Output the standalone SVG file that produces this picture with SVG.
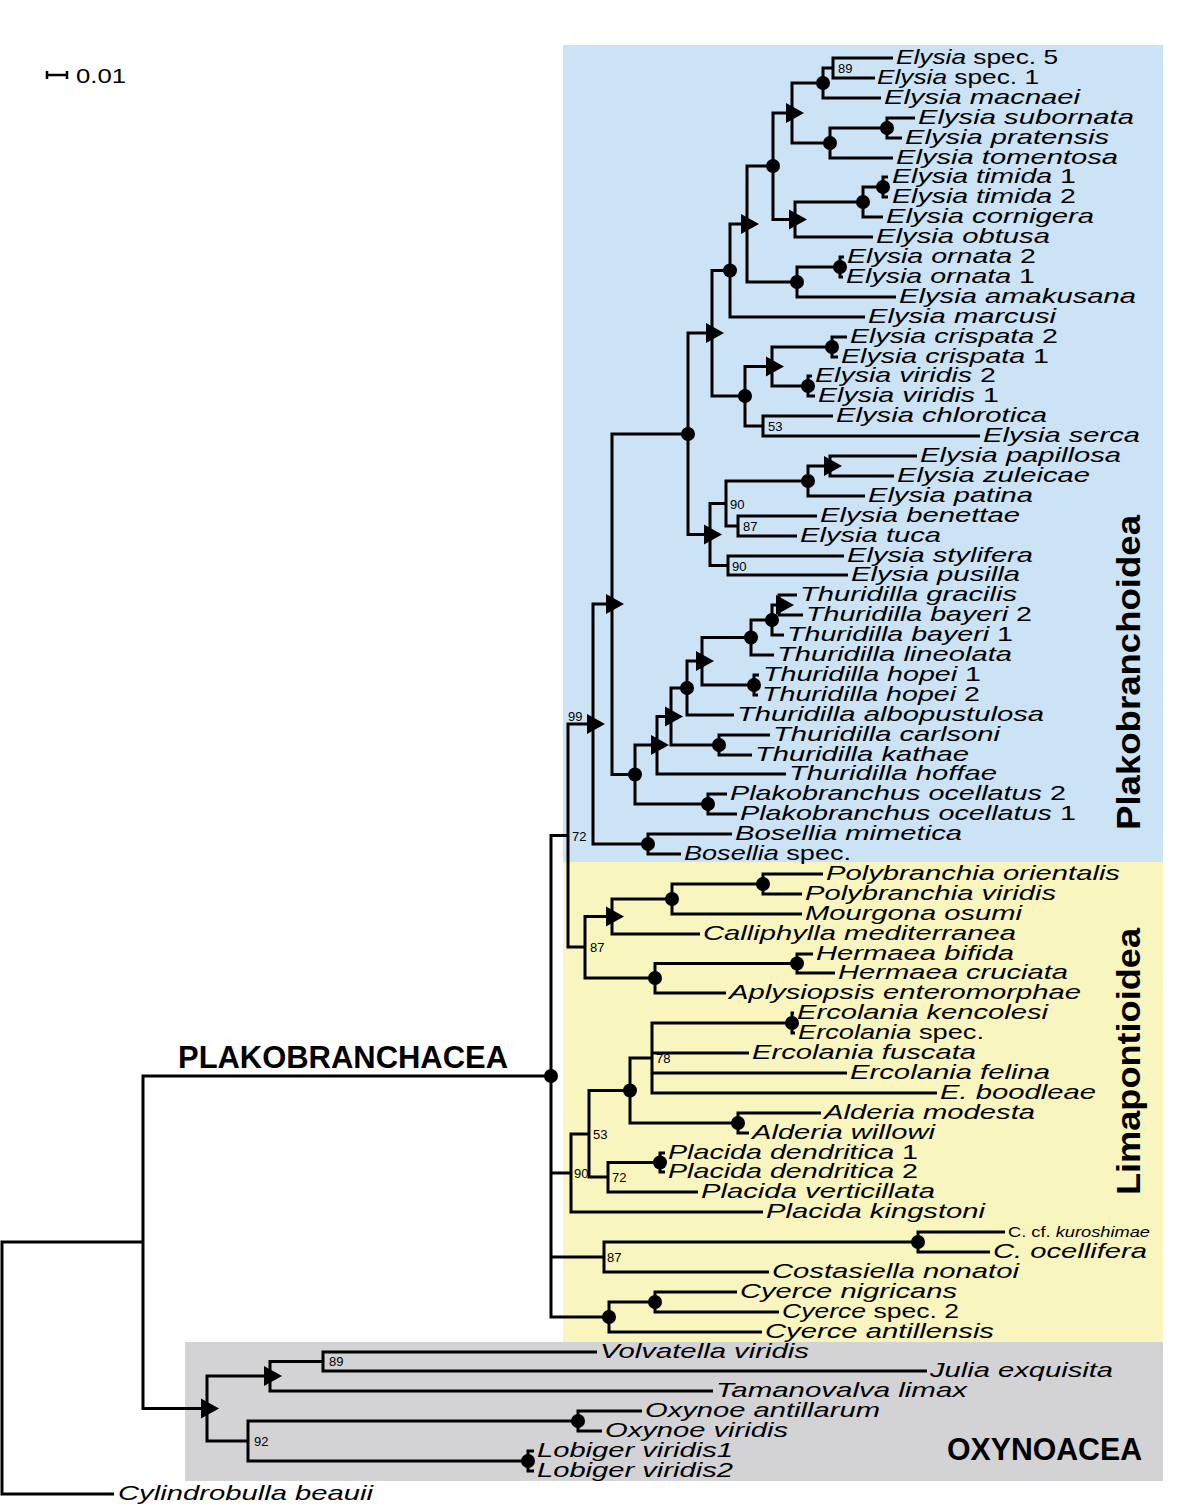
<svg xmlns="http://www.w3.org/2000/svg" width="1200" height="1508" viewBox="0 0 1200 1508">
<style>
.bg{stroke:none}
.br{fill:none;stroke:#000;stroke-width:3;stroke-linejoin:miter}
.lab{font-family:"Liberation Sans",Arial,sans-serif;font-size:21px;font-style:italic;fill:#000}
.r{font-style:normal}
.sm{font-size:14px}
.bs{font-family:"Liberation Sans",Arial,sans-serif;font-size:13px;fill:#000}
.grp{font-family:"Liberation Sans",Arial,sans-serif;font-weight:bold;fill:#000}
.dot{fill:#000}
</style>
<rect width="1200" height="1508" fill="#fff"/>
<g id="regions">
<rect class="bg" x="563" y="45" width="600" height="817" fill="#cce3f5"/>
<rect class="bg" x="563" y="862" width="600" height="480" fill="#f8f5bf"/>
<rect class="bg" x="185" y="1342" width="978" height="139" fill="#d3d3d5"/>
</g>
<g id="scale">
<path d="M47,75 H67 M47,71 V79 M67,71 V79" fill="none" stroke="#000" stroke-width="2.5"/>
<text x="76" y="83" font-family="Liberation Sans, Arial, sans-serif" font-size="21" textLength="50" lengthAdjust="spacingAndGlyphs">0.01</text>
</g>
<g id="connectors" class="br">
<path d="M893,58 H833 V78 H875"/>
<path d="M833,68 H823 V98 H881"/>
<path d="M915,118 H887 V138 H902"/>
<path d="M887,128 H830 V158 H893"/>
<path d="M823,83 H792 V143 H830"/>
<path d="M888,177 H883 V197 H888"/>
<path d="M883,187 H863 V217 H883"/>
<path d="M863,202 H795 V237 H873"/>
<path d="M792,113 H773 V219.5 H795"/>
<path d="M844,257 H840 V277 H843"/>
<path d="M840,267 H797 V297 H896"/>
<path d="M773,166 H747 V282 H797"/>
<path d="M747,224 H730 V317 H865"/>
<path d="M847,337 H832 V357 H838"/>
<path d="M812,376 H808 V396 H815"/>
<path d="M832,347 H772 V386 H808"/>
<path d="M833,416 H763 V436 H980"/>
<path d="M772,366.5 H745 V426 H763"/>
<path d="M730,270.5 H712 V396 H745"/>
<path d="M917,456 H830 V476 H894"/>
<path d="M830,466 H808 V496 H865"/>
<path d="M817,516 H738 V536 H797"/>
<path d="M808,481 H726 V526 H738"/>
<path d="M844,556 H728 V575 H848"/>
<path d="M726,503.5 H710 V565.5 H728"/>
<path d="M712,333 H688 V534.5 H710"/>
<path d="M797,595 H779 V615 H803"/>
<path d="M779,605 H772 V635 H784"/>
<path d="M772,620 H751 V655 H774"/>
<path d="M759,675 H754 V695 H758"/>
<path d="M751,637.5 H702 V685 H754"/>
<path d="M702,661 H687 V715 H734"/>
<path d="M770,735 H719 V755 H752"/>
<path d="M687,688 H671 V745 H719"/>
<path d="M671,716.5 H657 V774 H786"/>
<path d="M727,794 H708 V814 H737"/>
<path d="M657,745 H635 V804 H708"/>
<path d="M688,434 H612 V774.5 H635"/>
<path d="M732,834 H648 V854 H681"/>
<path d="M612,604 H593 V844 H648"/>
<path d="M823,874 H763 V894 H802"/>
<path d="M763,884 H672 V914 H802"/>
<path d="M672,899 H612 V934 H700"/>
<path d="M813,954 H797 V973 H835"/>
<path d="M797,963.5 H655 V993 H726"/>
<path d="M612,916.5 H585 V978 H655"/>
<path d="M593,724 H568 V947 H585"/>
<path d="M794,1013 H792 V1033 H795"/>
<path d="M792,1023 H652 V1093 H937 M652,1053 H749 M652,1073 H847"/>
<path d="M821,1113 H738 V1133 H749"/>
<path d="M652,1058 H630 V1123 H738"/>
<path d="M665,1153 H660 V1172 H665"/>
<path d="M660,1162.5 H608 V1192 H698"/>
<path d="M630,1090.5 H589 V1177 H608"/>
<path d="M589,1134 H571 V1212 H763"/>
<path d="M1005,1232 H918 V1252 H990"/>
<path d="M918,1242 H604 V1272 H769"/>
<path d="M737,1292 H655 V1312 H779"/>
<path d="M655,1302 H609 V1332 H762"/>
<path d="M568,835.5 H551 V1317 H609 M551,1173 H571 M551,1257 H604"/>
<path d="M597,1352 H323 V1371 H927"/>
<path d="M323,1361.5 H270 V1391 H713"/>
<path d="M642,1411 H578 V1431 H602"/>
<path d="M534,1451 H528 V1471 H534"/>
<path d="M578,1421 H248 V1461 H528"/>
<path d="M270,1376 H207 V1441 H248"/>
<path d="M551,1076 H143 V1408.5 H207"/>
<path d="M143,1242 H2 V1494 H114"/>
</g>
<g id="internal-nodes" class="dot">
<g id="n-89a"><text class="bs" x="838" y="73">89</text></g>
<g id="n-macnaei"><circle cx="823" cy="83" r="7"/></g>
<g id="n-subornata"><circle cx="887" cy="128" r="7"/></g>
<g id="n-tomentosa"><circle cx="830" cy="143" r="7"/></g>
<g id="n-H"><polygon points="786,103 786,123 804,113"/></g>
<g id="n-timida"><circle cx="883" cy="187" r="7"/></g>
<g id="n-cornigera"><circle cx="863" cy="202" r="7"/></g>
<g id="n-J"><polygon points="789,209.5 789,229.5 807,219.5"/></g>
<g id="n-I"><circle cx="773" cy="166" r="7"/></g>
<g id="n-ornata"><circle cx="840" cy="267" r="7"/></g>
<g id="n-amakusana"><circle cx="797" cy="282" r="7"/></g>
<g id="n-K"><polygon points="741,214 741,234 759,224"/></g>
<g id="n-L"><circle cx="730" cy="270.5" r="7"/></g>
<g id="n-crispata"><circle cx="832" cy="347" r="7"/></g>
<g id="n-viridis"><circle cx="808" cy="386" r="7"/></g>
<g id="n-O"><polygon points="766,356.5 766,376.5 784,366.5"/></g>
<g id="n-53a"><text class="bs" x="768" y="431">53</text></g>
<g id="n-N"><circle cx="745" cy="396" r="7"/></g>
<g id="n-M"><polygon points="706,323 706,343 724,333"/></g>
<g id="n-papillosa"><polygon points="824,456 824,476 842,466"/></g>
<g id="n-patina"><circle cx="808" cy="481" r="7"/></g>
<g id="n-87a"><text class="bs" x="743" y="531">87</text></g>
<g id="n-90a"><text class="bs" x="730" y="508.5">90</text></g>
<g id="n-90b"><text class="bs" x="732" y="570.5">90</text></g>
<g id="n-P"><polygon points="704,524.5 704,544.5 722,534.5"/></g>
<g id="n-E"><circle cx="688" cy="434" r="7"/></g>
<g id="n-G"><polygon points="776,595 776,615 794,605"/></g>
<g id="n-F"><circle cx="772" cy="620" r="7"/></g>
<g id="n-lineolata"><circle cx="751" cy="637.5" r="7"/></g>
<g id="n-hopei"><circle cx="754" cy="685" r="7"/></g>
<g id="n-D"><polygon points="696,651 696,671 714,661"/></g>
<g id="n-C"><circle cx="687" cy="688" r="7"/></g>
<g id="n-kathae"><circle cx="719" cy="745" r="7"/></g>
<g id="n-B"><polygon points="665,706.5 665,726.5 683,716.5"/></g>
<g id="n-A"><polygon points="651,735 651,755 669,745"/></g>
<g id="n-plakobranchus"><circle cx="708" cy="804" r="7"/></g>
<g id="n-AP"><circle cx="635" cy="774.5" r="7"/></g>
<g id="n-TP"><polygon points="606,594 606,614 624,604"/></g>
<g id="n-bosellia"><circle cx="648" cy="844" r="7"/></g>
<g id="n-99"><polygon points="587,714 587,734 605,724"/><text class="bs" x="568" y="721">99</text></g>
<g id="n-72a"><text class="bs" x="572" y="841">72</text></g>
<g id="n-polybranchia"><circle cx="763" cy="884" r="7"/></g>
<g id="n-mourgona"><circle cx="672" cy="899" r="7"/></g>
<g id="n-calliphylla"><polygon points="606,906.5 606,926.5 624,916.5"/></g>
<g id="n-hermaea"><circle cx="797" cy="963.5" r="7"/></g>
<g id="n-aplysiopsis"><circle cx="655" cy="978" r="7"/></g>
<g id="n-87b"><text class="bs" x="590" y="952">87</text></g>
<g id="n-ercolania"><circle cx="792" cy="1023" r="7"/></g>
<g id="n-78"><text class="bs" x="656" y="1063">78</text></g>
<g id="n-alderia"><circle cx="738" cy="1123" r="7"/></g>
<g id="n-ercald"><circle cx="630" cy="1090.5" r="7"/></g>
<g id="n-placida"><circle cx="660" cy="1162.5" r="7"/></g>
<g id="n-72b"><text class="bs" x="612" y="1182">72</text></g>
<g id="n-53b"><text class="bs" x="593" y="1139">53</text></g>
<g id="n-90c"><text class="bs" x="574" y="1178">90</text></g>
<g id="n-costasiella"><circle cx="918" cy="1242" r="7"/></g>
<g id="n-87c"><text class="bs" x="607" y="1262">87</text></g>
<g id="n-cyerce2"><circle cx="655" cy="1302" r="7"/></g>
<g id="n-cyerce"><circle cx="609" cy="1317" r="7"/></g>
<g id="n-plakobranchacea"><circle cx="551" cy="1076" r="7"/></g>
<g id="n-89b"><text class="bs" x="329" y="1366">89</text></g>
<g id="n-tamanovalva"><polygon points="264,1366 264,1386 282,1376"/></g>
<g id="n-oxynoe"><circle cx="578" cy="1421" r="7"/></g>
<g id="n-lobiger"><circle cx="528" cy="1461" r="7"/></g>
<g id="n-92"><text class="bs" x="254" y="1446">92</text></g>
<g id="n-oxynoacea"><polygon points="201,1398.5 201,1418.5 219,1408.5"/></g>
</g>
<g id="leaves">
<g id="t00"><text class="lab" x="896" y="64" textLength="162" lengthAdjust="spacingAndGlyphs">Elysia<tspan class="r"> spec. 5</tspan></text></g>
<g id="t01"><text class="lab" x="877" y="84" textLength="162" lengthAdjust="spacingAndGlyphs">Elysia<tspan class="r"> spec. 1</tspan></text></g>
<g id="t02"><text class="lab" x="884" y="104" textLength="196" lengthAdjust="spacingAndGlyphs">Elysia macnaei</text></g>
<g id="t03"><text class="lab" x="918" y="124" textLength="216" lengthAdjust="spacingAndGlyphs">Elysia subornata</text></g>
<g id="t04"><text class="lab" x="905" y="144" textLength="204" lengthAdjust="spacingAndGlyphs">Elysia pratensis</text></g>
<g id="t05"><text class="lab" x="896" y="164" textLength="222" lengthAdjust="spacingAndGlyphs">Elysia tomentosa</text></g>
<g id="t06"><text class="lab" x="892" y="183" textLength="184" lengthAdjust="spacingAndGlyphs">Elysia timida<tspan class="r"> 1</tspan></text></g>
<g id="t07"><text class="lab" x="892" y="203" textLength="184" lengthAdjust="spacingAndGlyphs">Elysia timida<tspan class="r"> 2</tspan></text></g>
<g id="t08"><text class="lab" x="886" y="223" textLength="208" lengthAdjust="spacingAndGlyphs">Elysia cornigera</text></g>
<g id="t09"><text class="lab" x="876" y="243" textLength="174" lengthAdjust="spacingAndGlyphs">Elysia obtusa</text></g>
<g id="t10"><text class="lab" x="847" y="263" textLength="189" lengthAdjust="spacingAndGlyphs">Elysia ornata<tspan class="r"> 2</tspan></text></g>
<g id="t11"><text class="lab" x="846" y="283" textLength="189" lengthAdjust="spacingAndGlyphs">Elysia ornata<tspan class="r"> 1</tspan></text></g>
<g id="t12"><text class="lab" x="899" y="303" textLength="237" lengthAdjust="spacingAndGlyphs">Elysia amakusana</text></g>
<g id="t13"><text class="lab" x="868" y="323" textLength="188" lengthAdjust="spacingAndGlyphs">Elysia marcusi</text></g>
<g id="t14"><text class="lab" x="850" y="343" textLength="208" lengthAdjust="spacingAndGlyphs">Elysia crispata<tspan class="r"> 2</tspan></text></g>
<g id="t15"><text class="lab" x="841" y="363" textLength="208" lengthAdjust="spacingAndGlyphs">Elysia crispata<tspan class="r"> 1</tspan></text></g>
<g id="t16"><text class="lab" x="815" y="382" textLength="181" lengthAdjust="spacingAndGlyphs">Elysia viridis<tspan class="r"> 2</tspan></text></g>
<g id="t17"><text class="lab" x="818" y="402" textLength="181" lengthAdjust="spacingAndGlyphs">Elysia viridis<tspan class="r"> 1</tspan></text></g>
<g id="t18"><text class="lab" x="836" y="422" textLength="211" lengthAdjust="spacingAndGlyphs">Elysia chlorotica</text></g>
<g id="t19"><text class="lab" x="983" y="442" textLength="157" lengthAdjust="spacingAndGlyphs">Elysia serca</text></g>
<g id="t20"><text class="lab" x="920" y="462" textLength="201" lengthAdjust="spacingAndGlyphs">Elysia papillosa</text></g>
<g id="t21"><text class="lab" x="897" y="482" textLength="193" lengthAdjust="spacingAndGlyphs">Elysia zuleicae</text></g>
<g id="t22"><text class="lab" x="868" y="502" textLength="165" lengthAdjust="spacingAndGlyphs">Elysia patina</text></g>
<g id="t23"><text class="lab" x="820" y="522" textLength="200" lengthAdjust="spacingAndGlyphs">Elysia benettae</text></g>
<g id="t24"><text class="lab" x="800" y="542" textLength="141" lengthAdjust="spacingAndGlyphs">Elysia tuca</text></g>
<g id="t25"><text class="lab" x="847" y="562" textLength="186" lengthAdjust="spacingAndGlyphs">Elysia stylifera</text></g>
<g id="t26"><text class="lab" x="851" y="581" textLength="169" lengthAdjust="spacingAndGlyphs">Elysia pusilla</text></g>
<g id="t27"><text class="lab" x="800" y="601" textLength="217" lengthAdjust="spacingAndGlyphs">Thuridilla gracilis</text></g>
<g id="t28"><text class="lab" x="806" y="621" textLength="226" lengthAdjust="spacingAndGlyphs">Thuridilla bayeri<tspan class="r"> 2</tspan></text></g>
<g id="t29"><text class="lab" x="787" y="641" textLength="226" lengthAdjust="spacingAndGlyphs">Thuridilla bayeri<tspan class="r"> 1</tspan></text></g>
<g id="t30"><text class="lab" x="777" y="661" textLength="235" lengthAdjust="spacingAndGlyphs">Thuridilla lineolata</text></g>
<g id="t31"><text class="lab" x="763" y="681" textLength="218" lengthAdjust="spacingAndGlyphs">Thuridilla hopei<tspan class="r"> 1</tspan></text></g>
<g id="t32"><text class="lab" x="762" y="701" textLength="218" lengthAdjust="spacingAndGlyphs">Thuridilla hopei<tspan class="r"> 2</tspan></text></g>
<g id="t33"><text class="lab" x="737" y="721" textLength="307" lengthAdjust="spacingAndGlyphs">Thuridilla albopustulosa</text></g>
<g id="t34"><text class="lab" x="773" y="741" textLength="227" lengthAdjust="spacingAndGlyphs">Thuridilla carlsoni</text></g>
<g id="t35"><text class="lab" x="755" y="761" textLength="214" lengthAdjust="spacingAndGlyphs">Thuridilla kathae</text></g>
<g id="t36"><text class="lab" x="789" y="780" textLength="208" lengthAdjust="spacingAndGlyphs">Thuridilla hoffae</text></g>
<g id="t37"><text class="lab" x="730" y="800" textLength="336" lengthAdjust="spacingAndGlyphs">Plakobranchus ocellatus<tspan class="r"> 2</tspan></text></g>
<g id="t38"><text class="lab" x="740" y="820" textLength="336" lengthAdjust="spacingAndGlyphs">Plakobranchus ocellatus<tspan class="r"> 1</tspan></text></g>
<g id="t39"><text class="lab" x="735" y="840" textLength="227" lengthAdjust="spacingAndGlyphs">Bosellia mimetica</text></g>
<g id="t40"><text class="lab" x="684" y="860" textLength="167" lengthAdjust="spacingAndGlyphs">Bosellia<tspan class="r"> spec.</tspan></text></g>
<g id="t41"><text class="lab" x="826" y="880" textLength="294" lengthAdjust="spacingAndGlyphs">Polybranchia orientalis</text></g>
<g id="t42"><text class="lab" x="805" y="900" textLength="251" lengthAdjust="spacingAndGlyphs">Polybranchia viridis</text></g>
<g id="t43"><text class="lab" x="805" y="920" textLength="217" lengthAdjust="spacingAndGlyphs">Mourgona osumi</text></g>
<g id="t44"><text class="lab" x="703" y="940" textLength="313" lengthAdjust="spacingAndGlyphs">Calliphylla mediterranea</text></g>
<g id="t45"><text class="lab" x="816" y="960" textLength="198" lengthAdjust="spacingAndGlyphs">Hermaea bifida</text></g>
<g id="t46"><text class="lab" x="838" y="979" textLength="230" lengthAdjust="spacingAndGlyphs">Hermaea cruciata</text></g>
<g id="t47"><text class="lab" x="729" y="999" textLength="352" lengthAdjust="spacingAndGlyphs">Aplysiopsis enteromorphae</text></g>
<g id="t48"><text class="lab" x="797" y="1019" textLength="251" lengthAdjust="spacingAndGlyphs">Ercolania kencolesi</text></g>
<g id="t49"><text class="lab" x="798" y="1039" textLength="186" lengthAdjust="spacingAndGlyphs">Ercolania<tspan class="r"> spec.</tspan></text></g>
<g id="t50"><text class="lab" x="752" y="1059" textLength="224" lengthAdjust="spacingAndGlyphs">Ercolania fuscata</text></g>
<g id="t51"><text class="lab" x="850" y="1079" textLength="200" lengthAdjust="spacingAndGlyphs">Ercolania felina</text></g>
<g id="t52"><text class="lab" x="940" y="1099" textLength="156" lengthAdjust="spacingAndGlyphs">E. boodleae</text></g>
<g id="t53"><text class="lab" x="824" y="1119" textLength="211" lengthAdjust="spacingAndGlyphs">Alderia modesta</text></g>
<g id="t54"><text class="lab" x="752" y="1139" textLength="183" lengthAdjust="spacingAndGlyphs">Alderia willowi</text></g>
<g id="t55"><text class="lab" x="668" y="1159" textLength="250" lengthAdjust="spacingAndGlyphs">Placida dendritica<tspan class="r"> 1</tspan></text></g>
<g id="t56"><text class="lab" x="668" y="1178" textLength="250" lengthAdjust="spacingAndGlyphs">Placida dendritica<tspan class="r"> 2</tspan></text></g>
<g id="t57"><text class="lab" x="701" y="1198" textLength="234" lengthAdjust="spacingAndGlyphs">Placida verticillata</text></g>
<g id="t58"><text class="lab" x="766" y="1218" textLength="219" lengthAdjust="spacingAndGlyphs">Placida kingstoni</text></g>
<g id="t59"><text class="lab sm" x="1008" y="1237" textLength="142" lengthAdjust="spacingAndGlyphs"><tspan class="r">C. cf. </tspan>kuroshimae</text></g>
<g id="t60"><text class="lab" x="993" y="1258" textLength="154" lengthAdjust="spacingAndGlyphs">C. ocellifera</text></g>
<g id="t61"><text class="lab" x="772" y="1278" textLength="247" lengthAdjust="spacingAndGlyphs">Costasiella nonatoi</text></g>
<g id="t62"><text class="lab" x="740" y="1298" textLength="217" lengthAdjust="spacingAndGlyphs">Cyerce nigricans</text></g>
<g id="t63"><text class="lab" x="782" y="1318" textLength="177" lengthAdjust="spacingAndGlyphs">Cyerce<tspan class="r"> spec. 2</tspan></text></g>
<g id="t64"><text class="lab" x="765" y="1338" textLength="229" lengthAdjust="spacingAndGlyphs">Cyerce antillensis</text></g>
<g id="t65"><text class="lab" x="600" y="1358" textLength="209" lengthAdjust="spacingAndGlyphs">Volvatella viridis</text></g>
<g id="t66"><text class="lab" x="930" y="1377" textLength="183" lengthAdjust="spacingAndGlyphs">Julia exquisita</text></g>
<g id="t67"><text class="lab" x="716" y="1397" textLength="251" lengthAdjust="spacingAndGlyphs">Tamanovalva limax</text></g>
<g id="t68"><text class="lab" x="645" y="1417" textLength="235" lengthAdjust="spacingAndGlyphs">Oxynoe antillarum</text></g>
<g id="t69"><text class="lab" x="605" y="1437" textLength="183" lengthAdjust="spacingAndGlyphs">Oxynoe viridis</text></g>
<g id="t70"><text class="lab" x="537" y="1457" textLength="196" lengthAdjust="spacingAndGlyphs">Lobiger viridis1</text></g>
<g id="t71"><text class="lab" x="537" y="1477" textLength="196" lengthAdjust="spacingAndGlyphs">Lobiger viridis2</text></g>
<g id="t72"><text class="lab" x="118" y="1500" textLength="255" lengthAdjust="spacingAndGlyphs">Cylindrobulla beauii</text></g>
</g>
<g id="group-labels">
<text class="grp" font-size="34" transform="translate(1140,830) rotate(-90)" textLength="315" lengthAdjust="spacingAndGlyphs">Plakobranchoidea</text>
<text class="grp" font-size="34" transform="translate(1140,1195) rotate(-90)" textLength="267" lengthAdjust="spacingAndGlyphs">Limapontioidea</text>
<text class="grp" font-size="31" x="178" y="1068" textLength="330" lengthAdjust="spacingAndGlyphs">PLAKOBRANCHACEA</text>
<text class="grp" font-size="32" x="947" y="1460" textLength="195" lengthAdjust="spacingAndGlyphs">OXYNOACEA</text>
</g>
</svg>
